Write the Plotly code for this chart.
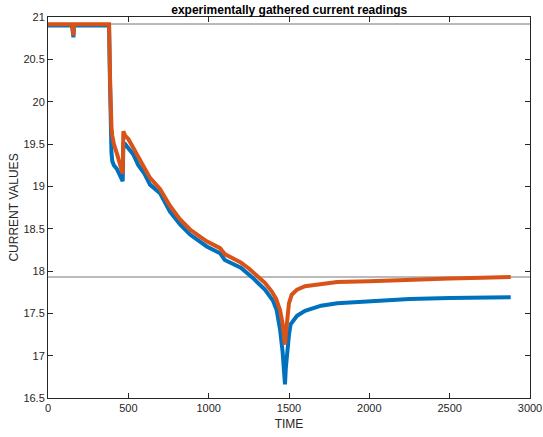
import plotly.graph_objects as go

# ---- data ----
time_orange = [0, 150, 158, 162, 170, 380, 386, 390, 395, 400, 410, 430, 450, 460, 465,
               469, 480, 500, 530, 562, 600, 635, 697, 759, 822, 884, 950, 988, 1071,
               1100, 1200, 1250, 1309, 1350, 1392, 1420, 1444, 1460, 1470, 1475, 1480,
               1490, 1500, 1517, 1550, 1600, 1700, 1800, 2000, 2250, 2500, 2700, 2880]
curr_orange = [20.915, 20.915, 20.78, 20.915, 20.915, 20.915, 20.3, 19.9, 19.7, 19.6, 19.5,
               19.38, 19.25, 19.19, 19.15, 19.65, 19.6, 19.56, 19.46, 19.36, 19.24, 19.1,
               18.97, 18.77, 18.61, 18.49, 18.40, 18.35, 18.27, 18.2, 18.1, 18.03, 17.93,
               17.86, 17.76, 17.67, 17.54, 17.38, 17.2, 17.13, 17.25, 17.5, 17.62, 17.72,
               17.78, 17.82, 17.85, 17.87, 17.88, 17.9, 17.91, 17.92, 17.93]

time_blue = [0, 150, 158, 162, 170, 380, 386, 390, 395, 400, 410, 430, 450, 460, 465,
             469, 480, 500, 530, 562, 600, 635, 697, 759, 822, 884, 950, 988, 1071,
             1100, 1200, 1268, 1350, 1400, 1423, 1445, 1460, 1470, 1475, 1480, 1490,
             1500, 1510, 1550, 1600, 1700, 1800, 2000, 2250, 2500, 2700, 2880]
curr_blue = [20.9, 20.9, 20.76, 20.9, 20.9, 20.9, 20.2, 19.7, 19.4, 19.3, 19.25, 19.2,
             19.12, 19.09, 19.06, 19.5, 19.5, 19.45, 19.38, 19.25, 19.15, 19.02, 18.92,
             18.7, 18.55, 18.43, 18.34, 18.29, 18.21, 18.13, 18.04, 17.93, 17.78, 17.65,
             17.54, 17.3, 17.05, 16.8, 16.66, 16.85, 17.1, 17.25, 17.37, 17.47, 17.53,
             17.59, 17.62, 17.64, 17.67, 17.68, 17.69, 17.69]

ref_levels = [20.917, 17.93]
x_range = [0, 3000]
y_range = [16.5, 21]

AX = "#262626"
FONT = "Liberation Sans, Arial, sans-serif"

fig = go.Figure()
for lvl in ref_levels:
    fig.add_trace(go.Scatter(x=x_range, y=[lvl, lvl], mode="lines",
                             line=dict(color="#a3a3a3", width=1.5),
                             showlegend=False, hoverinfo="skip"))
fig.add_trace(go.Scatter(x=time_blue, y=curr_blue, mode="lines",
                         line=dict(color="#0072BD", width=4), showlegend=False))
fig.add_trace(go.Scatter(x=time_orange, y=curr_orange, mode="lines",
                         line=dict(color="#D95319", width=4), showlegend=False))

axis_common = dict(showline=True, linecolor=AX, linewidth=1, mirror="ticks",
                   ticks="inside", ticklen=5, tickcolor=AX, tickwidth=1,
                   showgrid=False, zeroline=False, automargin=False,
                   tickfont=dict(family=FONT, size=11, color=AX))

fig.update_layout(
    width=543, height=437,
    margin=dict(l=48, r=13, t=17, b=39),
    paper_bgcolor="white", plot_bgcolor="white",
    title=dict(text="<b>experimentally gathered current readings</b>",
               x=0.5327, xanchor="center", y=0.978, yanchor="middle",
               font=dict(family=FONT, size=12, color="black")),
    xaxis=dict(range=x_range, dtick=500, tick0=0,
               title=dict(text="TIME", font=dict(family=FONT, size=12, color=AX), standoff=6),
               **axis_common),
    yaxis=dict(range=y_range, dtick=0.5, tick0=16.5,
               title=dict(text="CURRENT VALUES", font=dict(family=FONT, size=12, color=AX), standoff=2),
               **axis_common),
)

fig.write_html("out.html")
